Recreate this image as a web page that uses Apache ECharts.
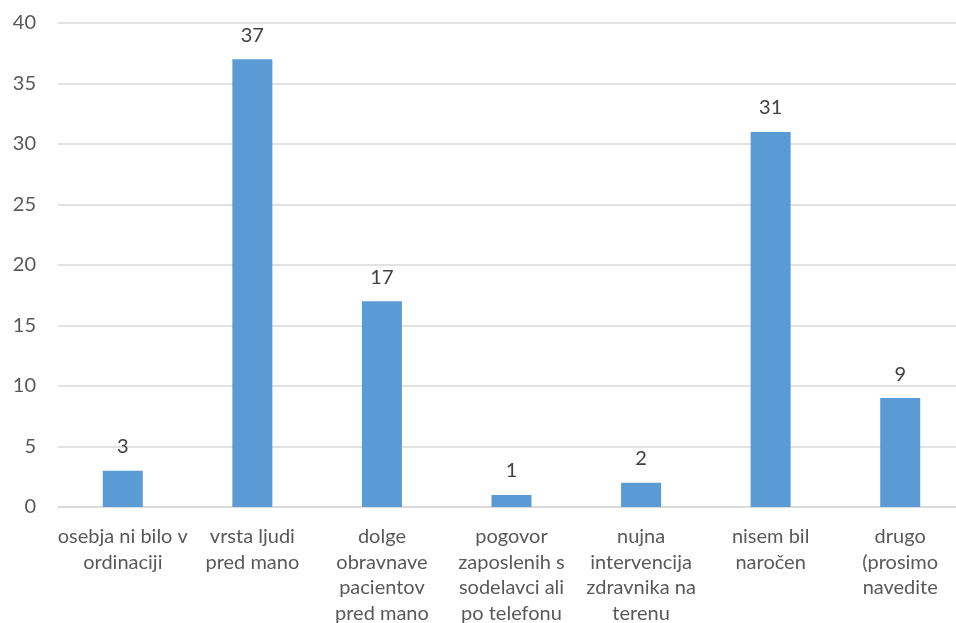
<!DOCTYPE html>
<html>
<head>
<meta charset="utf-8">
<script src="https://cdn.jsdelivr.net/npm/echarts@6/dist/echarts.min.js"></script>
<style>
html,body{margin:0;padding:0;background:#fff;}
#chart{width:956px;height:623px;}
</style>
</head>
<body>
<div id="chart"></div>
<script>
const categories = [
  "osebja ni bilo v\nordinaciji",
  "vrsta ljudi\npred mano",
  "dolge\nobravnave\npacientov\npred mano",
  "pogovor\nzaposlenih s\nsodelavci ali\npo telefonu",
  "nujna\nintervencija\nzdravnika na\nterenu",
  "nisem bil\nnaročen",
  "drugo\n(prosimo\nnavedite"
];
const values = [3, 37, 17, 1, 2, 31, 9];
const yTicks = { min: 0, max: 40, interval: 5 };

const chart = echarts.init(document.getElementById('chart'), null, {renderer: 'canvas'});
chart.setOption({
  animation: false,
  backgroundColor: '#ffffff',
  grid: { left: 58, top: 23, bottom: 116, right: -9, containLabel: false, outerBoundsMode: 'none' },
  xAxis: {
    type: 'category',
    data: categories,
    axisLine: { show: true, lineStyle: { color: '#d9d9d9', width: 1.5 } },
    axisTick: { show: false },
    axisLabel: {
      interval: 0,
      color: '#595959',
      fontFamily: 'Lato',
      fontSize: 20,
      lineHeight: 25.5,
      margin: 17,
      verticalAlign: 'top'
    }
  },
  yAxis: {
    type: 'value',
    min: yTicks.min, max: yTicks.max, interval: yTicks.interval,
    axisLine: { show: false },
    axisTick: { show: false },
    splitLine: { lineStyle: { color: '#d9d9d9', width: 1.5 } },
    axisLabel: { color: '#595959', fontFamily: 'Lato', fontSize: 20, margin: 22 }
  },
  series: [{
    type: 'bar',
    data: values,
    barWidth: 40,
    itemStyle: { color: '#5b9bd5' },
    label: {
      show: true, position: 'top', distance: 14,
      color: '#404040', fontFamily: 'Lato', fontSize: 20
    }
  }]
});
</script>
</body>
</html>
